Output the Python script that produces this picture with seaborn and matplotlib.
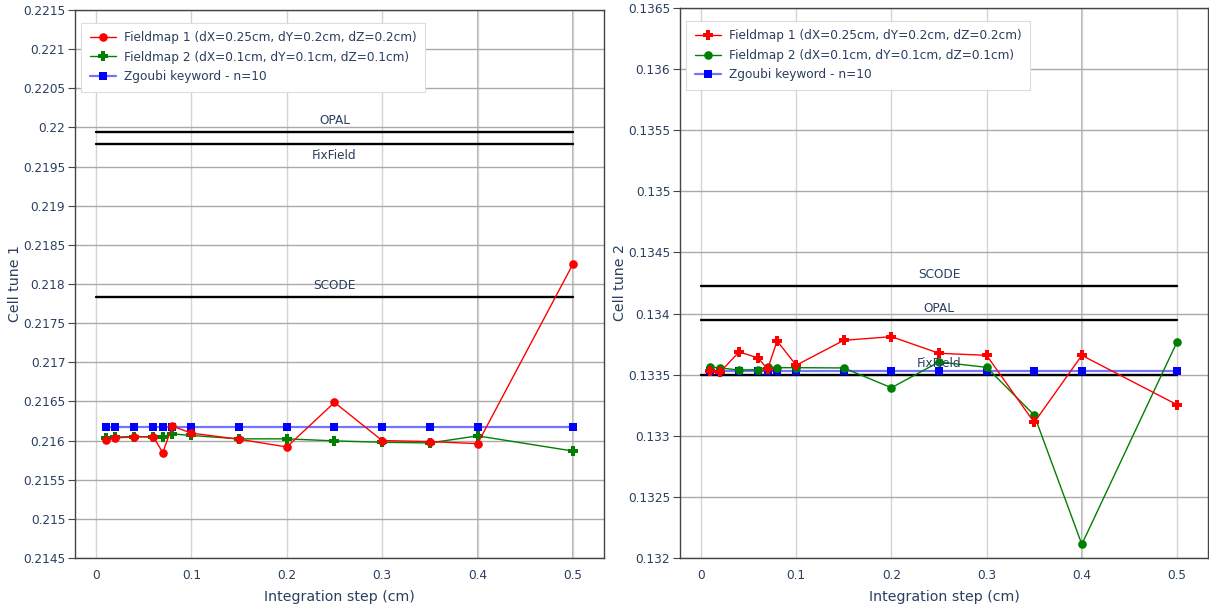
import numpy as np
import pandas as pd
import matplotlib
matplotlib.use("Agg")
import matplotlib.pyplot as plt
from matplotlib.ticker import FuncFormatter, MultipleLocator
import seaborn as sns

# Integration steps (cm)
steps = [0.01, 0.02, 0.04, 0.06, 0.07, 0.08, 0.1, 0.15, 0.2, 0.25, 0.3, 0.35, 0.4, 0.5]

# Cell tune 1
tune1_fm1 = [0.216004, 0.216034, 0.216047, 0.216052, 0.215845, 0.216185, 0.216095,
             0.216017, 0.215918, 0.216487, 0.216000, 0.215987, 0.215961, 0.218256]
tune1_fm2 = [0.216034, 0.216043, 0.216052, 0.216043, 0.216052, 0.216086, 0.216065,
             0.216022, 0.216022, 0.215996, 0.215978, 0.215970, 0.216060, 0.215866]
tune1_kw = [0.21617] * len(steps)

# Cell tune 2
tune2_fm1 = [0.133530, 0.133520, 0.133686, 0.133637, 0.133545, 0.133776, 0.133577,
             0.133781, 0.133811, 0.133675, 0.133658, 0.133109, 0.133658, 0.133254]
tune2_fm2 = [0.133563, 0.133555, 0.133538, 0.133541, 0.133563, 0.133557, 0.133557,
             0.133555, 0.133393, 0.133604, 0.133560, 0.133169, 0.132112, 0.133768]
tune2_kw = [0.13353] * len(steps)

# Reference codes: value of the tune and where the name sits
ref_span = [0.0, 0.5]
ref_names = ["OPAL", "FixField", "SCODE"]
ref_tune1 = [0.219944, 0.219784, 0.217839]
ref_tune1_pos = ["above", "below", "above"]
ref_tune2 = [0.133951, 0.133500, 0.134227]
ref_tune2_pos = ["above", "above", "above"]

series_names = ["Fieldmap 1 (dX=0.25cm, dY=0.2cm, dZ=0.2cm)",
                "Fieldmap 2 (dX=0.1cm, dY=0.1cm, dZ=0.1cm)",
                "Zgoubi keyword - n=10"]

sns.set_theme(style="white")
plt.rcParams["font.family"] = ["DejaVu Sans"]
TXT = "#2a3f5f"

fig = plt.figure(figsize=(12.09, 6.09), dpi=100)
W, H = 1209, 609
ax1 = fig.add_axes([75 / W, (H - 558) / H, 529 / W, 548 / H])
ax2 = fig.add_axes([680 / W, (H - 558) / H, 528 / W, 550 / H])


def fmt(v, pos):
    return f"{round(v, 6):g}"


def marker_style(m):
    if m == "o":
        return dict(marker="o", markersize=6.2, markeredgewidth=0)
    return dict(marker="P", markersize=7.4, markeredgewidth=0)


def draw(ax, fm1, fm2, kw, m1, m2, refs, ref_pos, ylim, ylabel, dark_x):
    df = pd.DataFrame({"step": steps, "fm1": fm1, "fm2": fm2, "kw": kw})
    sns.lineplot(data=df, x="step", y="kw", ax=ax, color="blue", marker="s",
                 markersize=5.2, markeredgewidth=0, linewidth=1.6,
                 sort=False, label=series_names[2], zorder=3)
    ax.lines[-1].set_color((0.45, 0.45, 1.0))
    ax.lines[-1].set_markerfacecolor("blue")
    sns.lineplot(data=df, x="step", y="fm2", ax=ax, color="green",
                 linewidth=1.0, sort=False, label=series_names[1], zorder=4,
                 **marker_style(m2))
    sns.lineplot(data=df, x="step", y="fm1", ax=ax, color="red",
                 linewidth=1.0, sort=False, label=series_names[0], zorder=5,
                 **marker_style(m1))

    for name, val, pos in zip(ref_names, refs, ref_pos):
        ax.plot(ref_span, [val, val], color="black", linewidth=1.7, zorder=2)
        off = 8.3 if pos == "above" else -8.3
        ax.annotate(name, xy=(np.mean(ref_span), val), xytext=(0, off),
                    textcoords="offset points", ha="center", va="center",
                    fontsize=8.7, color=TXT, zorder=6)

    ax.set_xlim(-0.022, 0.5325)
    ax.set_ylim(*ylim)
    ax.xaxis.set_major_locator(MultipleLocator(0.1))
    ax.yaxis.set_major_locator(MultipleLocator(0.0005))
    ax.xaxis.set_major_formatter(FuncFormatter(fmt))
    ax.yaxis.set_major_formatter(FuncFormatter(fmt))
    ax.tick_params(axis="y", which="major", direction="out", length=5, width=0.8,
                   color="#444444", labelsize=8.7, labelcolor=TXT, left=True, pad=2)
    ax.tick_params(axis="x", which="major", length=0, labelsize=8.7,
                   labelcolor=TXT, pad=8)
    ax.grid(axis="y", color="#aaaaaa", linewidth=1.0, zorder=0)
    ax.grid(axis="x", color="#d4d4d4", linewidth=1.0, zorder=0)
    for v in dark_x:
        ax.axvline(v, color="#b0b0b0", linewidth=1.4, zorder=0.5)
    ax.set_axisbelow(True)
    for s in ax.spines.values():
        s.set_color("#444444")
        s.set_linewidth(1.0)
        s.set_visible(True)
    ax.set_xlabel("Integration step (cm)", fontsize=10.2, color=TXT, labelpad=6)
    ax.set_ylabel(ylabel, fontsize=10.2, color=TXT, labelpad=1)

    handles, labels = ax.get_legend_handles_labels()
    order = [labels.index(n) for n in series_names]
    leg = ax.legend([handles[i] for i in order], [labels[i] for i in order],
                    loc="upper left", bbox_to_anchor=(0.012, 0.977), fontsize=8.7,
                    frameon=True, fancybox=False, framealpha=1.0, edgecolor="#dddddd",
                    borderpad=0.7, labelspacing=0.55, handlelength=2.2,
                    handletextpad=0.6, borderaxespad=0)
    leg.get_frame().set_linewidth(0.8)
    for t in leg.get_texts():
        t.set_color(TXT)


draw(ax1, tune1_fm1, tune1_fm2, tune1_kw, "o", "P", ref_tune1, ref_tune1_pos,
     (0.2145, 0.2215), "Cell tune 1", [0.4, 0.5])
draw(ax2, tune2_fm1, tune2_fm2, tune2_kw, "P", "o", ref_tune2, ref_tune2_pos,
     (0.132, 0.1365), "Cell tune 2", [0.4])

fig.savefig("out.png", dpi=100, facecolor="white")
